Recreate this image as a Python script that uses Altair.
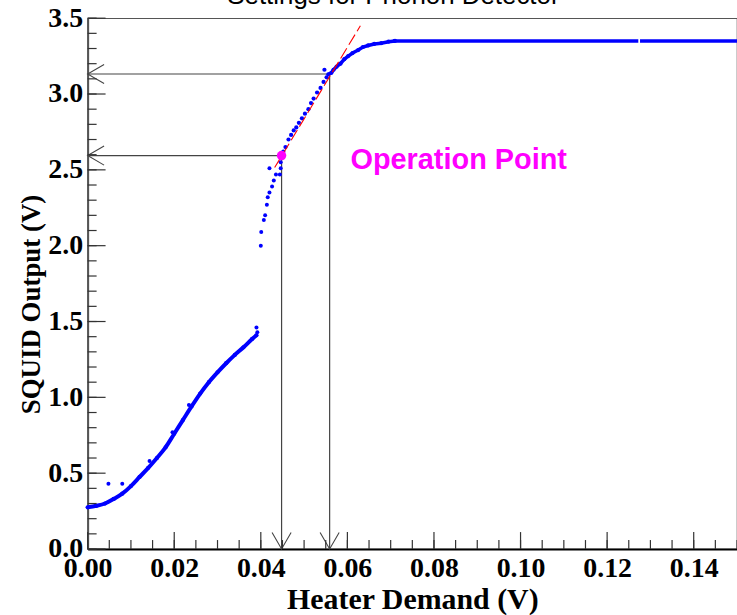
import altair as alt
import pandas as pd

# ---------------- data ----------------
# dense lower branch (heater demand V, SQUID output V)
low_x = [0.0000, 0.0020, 0.0040, 0.0060, 0.0080, 0.0100, 0.0120, 0.0140, 0.0160, 0.0180,
         0.0200, 0.0220, 0.0240, 0.0260, 0.0280, 0.0300, 0.0320, 0.0340, 0.0360, 0.0380, 0.0390]
low_y = [0.275, 0.285, 0.300, 0.330, 0.365, 0.415, 0.475, 0.535, 0.600, 0.670,
         0.760, 0.850, 0.940, 1.025, 1.100, 1.165, 1.225, 1.280, 1.330, 1.385, 1.410]
# scattered stray points
stray_x = [0.0048, 0.0080, 0.0143, 0.0196, 0.0234, 0.0390, 0.0392]
stray_y = [0.430, 0.430, 0.580, 0.770, 0.950, 1.460, 1.430]
# sparse jump branch
jump_x = [0.0400, 0.0401, 0.0407, 0.0410, 0.0414, 0.0416, 0.0420, 0.0426, 0.0430, 0.0435,
          0.0420, 0.0444, 0.0446, 0.0446]
jump_y = [2.00, 2.09, 2.17, 2.20, 2.27, 2.32, 2.35, 2.39, 2.43, 2.47,
          2.51, 2.47, 2.51, 2.55]
# steep rising branch
rise_x = [0.0448, 0.0452, 0.0457, 0.0464, 0.0470, 0.0476, 0.0482, 0.0488, 0.0495, 0.0502,
          0.0510, 0.0516, 0.0522, 0.0530, 0.0538, 0.0545, 0.0552, 0.0547]
rise_y = [2.59, 2.62, 2.65, 2.70, 2.73, 2.76, 2.78, 2.81, 2.84, 2.87,
          2.90, 2.94, 2.97, 3.01, 3.04, 3.08, 3.11, 3.16]
# saturation knee
sat_x = [0.0556, 0.0563, 0.0568, 0.0575, 0.0584, 0.0593, 0.0602, 0.0612, 0.0625, 0.0636,
         0.0648, 0.0662, 0.0678, 0.0695, 0.0710]
sat_y = [3.13, 3.14, 3.16, 3.18, 3.20, 3.23, 3.25, 3.27, 3.29, 3.31,
         3.32, 3.33, 3.335, 3.345, 3.35]
# plateau (dense run of points, with one small gap)
flat_start = [0.0705, 0.1276]
flat_end = [0.1272, 0.1500]
flat_level = [3.35, 3.35]
# operation point and working-range marker
marker_x = [0.0448, 0.0559]
marker_y = [2.594, 3.132]
# linear fit through the working range (red dashed)
fit_x = [0.0432, 0.0630]
fit_y = [2.515, 3.450]
# axis ticks
x_major = [0.00, 0.02, 0.04, 0.06, 0.08, 0.10, 0.12, 0.14]
x_minor = [round(0.005 * i, 3) for i in range(31)]
y_major = [0.0, 0.5, 1.0, 1.5, 2.0, 2.5, 3.0, 3.5]
y_minor = [round(0.1 * i, 1) for i in range(36)]

W, H = 652, 533
BLUE = "#0000ff"

xs = alt.Scale(domain=[0, 0.15], nice=False, zero=False)
ys = alt.Scale(domain=[0, 3.5], nice=False, zero=False)

xaxis = alt.Axis(values=x_major, format=".2f", ticks=False, grid=False,
                 labelFont="Liberation Serif", labelFontWeight="bold", labelFontSize=28,
                 labelColor="black", labelPadding=6, labelFlush=False, labelOverlap=False,
                 domainColor="black", domainWidth=2,
                 title="Heater Demand (V)", titleFont="Liberation Serif", titleFontWeight="bold",
                 titleFontSize=30, titleColor="black", titleBaseline="alphabetic",
                 titleY=60, titleX=W / 2, titleAlign="center")
yaxis = alt.Axis(values=y_major, format=".1f", ticks=False, grid=False,
                 labelFont="Liberation Serif", labelFontWeight="bold", labelFontSize=28,
                 labelColor="black", labelPadding=5, labelFlush=False, labelOverlap=False,
                 domainColor="#555", domainWidth=2,
                 title="SQUID Output (V)", titleFont="Liberation Serif", titleFontWeight="bold",
                 titleFontSize=27, titleColor="black", titleAngle=270,
                 titleBaseline="alphabetic", titleAlign="center", titleX=-48, titleY=287)

X = alt.X("x:Q", scale=xs, axis=xaxis)
Y = alt.Y("y:Q", scale=ys, axis=yaxis)

df_low = pd.DataFrame({"x": low_x, "y": low_y})
df_stray = pd.DataFrame({"x": stray_x, "y": stray_y})
df_jump = pd.DataFrame({"x": jump_x, "y": jump_y})
df_rise = pd.DataFrame({"x": rise_x, "y": rise_y})
df_sat = pd.DataFrame({"x": sat_x, "y": sat_y})
df_flat = pd.DataFrame({"x": flat_start, "x2": flat_end, "y": flat_level})
df_fit = pd.DataFrame({"x": fit_x, "y": fit_y})

# guide lines from axes to the two marker points
df_h = pd.DataFrame({"x": [0.0, 0.0], "x2": marker_x, "y": marker_y})
df_v = pd.DataFrame({"x": marker_x, "y": [0.0, 0.0], "y2": marker_y})
df_harrow = pd.DataFrame({"x": [0.0, 0.0], "y": marker_y})
df_varrow = pd.DataFrame({"x": marker_x, "y": [0.0, 0.0]})
df_op = pd.DataFrame({"x": [marker_x[0]], "y": [marker_y[0]]})
df_label = pd.DataFrame({"x": [0.0607], "y": [2.508], "t": ["Operation Point"]})

guide = "#444444"
hlines = alt.Chart(df_h).mark_rule(color=guide, strokeWidth=1.2).encode(x=X, x2="x2:Q", y=Y)
vlines = alt.Chart(df_v).mark_rule(color=guide, strokeWidth=1.2).encode(x=X, y=Y, y2="y2:Q")
harrows = alt.Chart(df_harrow).mark_point(
    shape="M 1 -0.58 L 0 0 L 1 0.58", filled=False, stroke=guide, strokeWidth=1.1,
    size=1089, opacity=1).encode(x=X, y=Y)
varrows = alt.Chart(df_varrow).mark_point(
    shape="M -0.58 -1 L 0 0 L 0.58 -1", filled=False, stroke=guide, strokeWidth=1.1,
    size=1089, opacity=1).encode(x=X, y=Y)

low_line = alt.Chart(df_low).mark_line(color=BLUE, strokeWidth=4, interpolate="monotone").encode(x=X, y=Y)
low_pts = alt.Chart(df_low).mark_circle(color=BLUE, size=18, opacity=1).encode(x=X, y=Y)
stray_pts = alt.Chart(df_stray).mark_circle(color=BLUE, size=16, opacity=1).encode(x=X, y=Y)
jump_pts = alt.Chart(df_jump).mark_circle(color=BLUE, size=16, opacity=1).encode(x=X, y=Y)
rise_pts = alt.Chart(df_rise).mark_circle(color=BLUE, size=18, opacity=1).encode(x=X, y=Y)
sat_line = alt.Chart(df_sat).mark_line(color=BLUE, strokeWidth=3.5).encode(x=X, y=Y)
sat_pts = alt.Chart(df_sat).mark_circle(color=BLUE, size=18, opacity=1).encode(x=X, y=Y)
flat = alt.Chart(df_flat).mark_rule(color=BLUE, strokeWidth=3.5).encode(x=X, x2="x2:Q", y=Y)

fit = alt.Chart(df_fit).mark_line(color="#ff0000", strokeWidth=1.1, strokeDash=[12, 4]).encode(x=X, y=Y)
op = alt.Chart(df_op).mark_circle(color="#ff00ff", size=90, opacity=1).encode(x=X, y=Y)
label = alt.Chart(df_label).mark_text(
    font="Liberation Sans", fontWeight="bold", fontSize=29, color="#ff00ff",
    align="left", baseline="alphabetic").encode(x=X, y=Y, text="t:N")

title = alt.Chart(pd.DataFrame({"t": ["Settings for Phonon Detector"]})).mark_text(
    font="Liberation Sans", fontSize=26, color="black", align="center",
    baseline="alphabetic").encode(x=alt.value(307), y=alt.value(-14), text="t:N")

# inward ROOT-style ticks
tick_col = "#333333"
yt_major = alt.Chart(pd.DataFrame({"y": y_major})).mark_rule(color=tick_col, strokeWidth=1.2).encode(
    y=Y, x=alt.value(0), x2=alt.value(18))
yt_minor = alt.Chart(pd.DataFrame({"y": y_minor})).mark_rule(color=tick_col, strokeWidth=1.2).encode(
    y=Y, x=alt.value(0), x2=alt.value(9))
xt_major = alt.Chart(pd.DataFrame({"x": x_major})).mark_rule(color=tick_col, strokeWidth=1.2).encode(
    x=X, y=alt.value(H), y2=alt.value(H - 17))
xt_minor = alt.Chart(pd.DataFrame({"x": x_minor})).mark_rule(color=tick_col, strokeWidth=1.2).encode(
    x=X, y=alt.value(H), y2=alt.value(H - 9))

chart = alt.layer(
    hlines, vlines, harrows, varrows,
    low_line, low_pts, stray_pts, jump_pts, rise_pts, sat_line, sat_pts, flat,
    fit, op, label, title,
    yt_major, yt_minor, xt_major, xt_minor,
).properties(
    width=W, height=H,
    autosize=alt.AutoSizeParams(type="none"),
    padding={"left": 88, "top": 17, "right": 0, "bottom": 65},
    background="white",
).configure_view(stroke="#555555", strokeWidth=1.2)

chart.save("out.html", embed_options={"renderer": "svg", "actions": False})
